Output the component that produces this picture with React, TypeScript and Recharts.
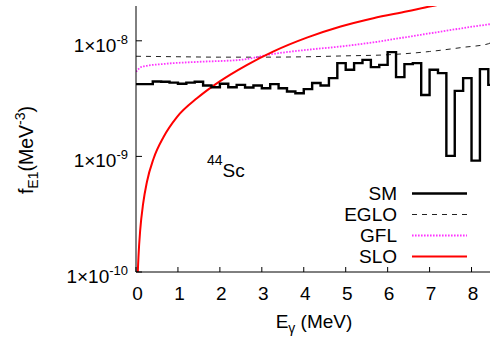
import React from 'react';
import { LineChart, Line, XAxis, YAxis } from 'recharts';

const FONT = '"Liberation Sans", Arial, Helvetica, sans-serif';

// Shell-model E1 strength: 0.2 MeV bins (left edges; last edge closes the final bin)
const smBinEdges = [
  0, 0.2, 0.4, 0.6, 0.8, 1.0, 1.2, 1.4, 1.6, 1.8, 2.0, 2.2, 2.4, 2.6, 2.8,
  3.0, 3.2, 3.4, 3.6, 3.8, 4.0, 4.2, 4.4, 4.6, 4.8, 5.0, 5.2, 5.4, 5.6, 5.8,
  6.0, 6.2, 6.4, 6.6, 6.8, 7.0, 7.2, 7.4, 7.6, 7.8, 8.0, 8.2, 8.4, 8.6,
];
const smStrength = [
  4.22e-9, 4.22e-9, 4.45e-9, 4.42e-9, 4.35e-9, 4.25e-9, 4.35e-9, 4.42e-9, 4.1e-9, 3.97e-9,
  4.25e-9, 3.97e-9, 4.16e-9, 3.94e-9, 4.1e-9, 3.89e-9, 4.22e-9, 3.89e-9, 3.64e-9, 3.52e-9,
  3.82e-9, 4.31e-9, 4.1e-9, 4.75e-9, 6.41e-9, 5.61e-9, 6.41e-9, 6.84e-9, 5.92e-9, 6.19e-9,
  7.98e-9, 4.85e-9, 6.28e-9, 6.41e-9, 3.4e-9, 5.61e-9, 5.25e-9, 1.01e-9, 3.69e-9, 4.75e-9,
  9.2e-10, 5.69e-9, 4.16e-9,
];

// Enhanced generalized Lorentzian
const egloEnergy = [0, 1, 2, 3, 4, 5, 6, 7, 7.8, 8.4, 8.5];
const egloStrength = [7.35e-9, 7.28e-9, 7.22e-9, 7.22e-9, 7.27e-9, 7.41e-9, 7.57e-9, 8.08e-9, 8.78e-9, 9.42e-9, 9.9e-9];

// Generalized Fermi liquid
const gflEnergy = [0, 0.15, 0.71, 1.5, 2.49, 3.28, 4.08, 4.88, 5.66, 6.47, 7.26, 8.05, 8.5];
const gflStrength = [5.4e-9, 5.98e-9, 6.33e-9, 6.58e-9, 6.84e-9, 7.71e-9, 8.36e-9, 8.93e-9, 9.7e-9, 1.08e-8, 1.2e-8, 1.33e-8, 1.4e-8];

// Standard Lorentzian
const sloEnergy = [0.03, 0.045, 0.06, 0.1, 0.17, 0.26, 0.42, 0.66, 0.98, 1.46, 1.85, 2.25, 2.65, 3.28, 4.09, 4.88, 5.66, 6.47, 7.03, 7.6];
const sloStrength = [6.9e-11, 1.04e-10, 1.38e-10, 2.3e-10, 3.9e-10, 6.0e-10, 9.6e-10, 1.48e-9, 2.2e-9, 3.2e-9, 4.1e-9, 5.1e-9, 6.2e-9, 8.1e-9, 1.07e-8, 1.33e-8, 1.57e-8, 1.8e-8, 1.99e-8, 2.17e-8];

const xTicks = [0, 1, 2, 3, 4, 5, 6, 7, 8];
const yMajorTicks = [1e-10, 1e-9, 1e-8];
const yMinorTicks = [
  2e-10, 3e-10, 4e-10, 5e-10, 6e-10, 7e-10, 8e-10, 9e-10,
  2e-9, 3e-9, 4e-9, 5e-9, 6e-9, 7e-9, 8e-9, 9e-9, 2e-8,
];

const X_DOMAIN: [number, number] = [0, 8.5];
const Y_DOMAIN: [number, number] = [1e-10, 2e-8];

const smData = smBinEdges.map((e, i) => ({ e, f: smStrength[Math.min(i, smStrength.length - 1)] }));
const egloData = egloEnergy.map((e, i) => ({ e, f: egloStrength[i] }));
const gflData = gflEnergy.map((e, i) => ({ e, f: gflStrength[i] }));
const sloData = sloEnergy.map((e, i) => ({ e, f: sloStrength[i] }));

const styles = {
  SM: { stroke: '#000000', strokeWidth: 2.4, dash: undefined as string | undefined },
  EGLO: { stroke: '#222222', strokeWidth: 1, dash: '5 5' },
  GFL: { stroke: '#ff33ff', strokeWidth: 1.8, dash: '1.6 1.4' },
  SLO: { stroke: '#ff0000', strokeWidth: 2, dash: undefined as string | undefined },
};
const legendOrder: (keyof typeof styles)[] = ['SM', 'EGLO', 'GFL', 'SLO'];

const YTick = (props: any) => {
  const { x, y, payload } = props;
  const exp = Math.round(Math.log10(payload.value));
  return (
    <text x={x} y={y + 11} textAnchor="end" fontSize={19} fontFamily={FONT} fill="#000">
      1×10<tspan dy={-8} fontSize={13}>{exp}</tspan>
    </text>
  );
};

const XTick = (props: any) => {
  const { x, y, payload } = props;
  return (
    <text x={x + 1.5} y={y} dy="0.71em" textAnchor="middle" fontSize={19} fontFamily={FONT} fill="#000">
      {payload.value}
    </text>
  );
};

const W = 500;
const H = 344;

export default function App() {
  return (
    <div style={{ position: 'fixed', left: 0, top: 0, width: 490, height: 344, overflow: 'hidden', background: '#fff' }}>
      <div style={{ position: 'relative', width: W, height: H }}>
        <LineChart width={W} height={H} margin={{ top: 6, right: 7.5, bottom: 0, left: 0 }}>
          <XAxis
            xAxisId="x"
            dataKey="e"
            type="number"
            domain={X_DOMAIN}
            allowDataOverflow
            ticks={xTicks}
            interval={0}
            height={72}
            tickSize={-5}
            tickMargin={19.5}
            axisLine={{ stroke: '#000', strokeWidth: 1 }}
            tickLine={{ stroke: '#000', strokeWidth: 1 }}
            tick={<XTick />}
          />
          <XAxis
            xAxisId="xTop"
            orientation="top"
            mirror
            height={0}
            type="number"
            domain={X_DOMAIN}
            allowDataOverflow
            ticks={xTicks}
            interval={0}
            tickSize={5}
            tick={false}
            axisLine={{ stroke: '#000', strokeWidth: 1 }}
            tickLine={{ stroke: '#000', strokeWidth: 1 }}
          />
          <YAxis
            yAxisId="y"
            type="number"
            scale="log"
            domain={Y_DOMAIN}
            allowDataOverflow
            ticks={yMajorTicks}
            interval={0}
            width={136}
            tickSize={-6}
            tickMargin={14}
            tick={<YTick />}
            axisLine={{ stroke: '#000', strokeWidth: 1 }}
            tickLine={{ stroke: '#000', strokeWidth: 1 }}
          />
          <YAxis
            yAxisId="yMinorL"
            orientation="left"
            mirror
            width={0}
            type="number"
            scale="log"
            domain={Y_DOMAIN}
            allowDataOverflow
            ticks={yMinorTicks}
            interval={0}
            tickSize={3}
            tick={false}
            axisLine={false}
            tickLine={{ stroke: '#000', strokeWidth: 1 }}
          />
          <YAxis
            yAxisId="yR"
            orientation="right"
            mirror
            width={0}
            type="number"
            scale="log"
            domain={Y_DOMAIN}
            allowDataOverflow
            ticks={yMajorTicks}
            interval={0}
            tickSize={6}
            tick={false}
            axisLine={{ stroke: '#000', strokeWidth: 1 }}
            tickLine={{ stroke: '#000', strokeWidth: 1 }}
          />
          <YAxis
            yAxisId="yMinorR"
            orientation="right"
            mirror
            width={0}
            type="number"
            scale="log"
            domain={Y_DOMAIN}
            allowDataOverflow
            ticks={yMinorTicks}
            interval={0}
            tickSize={3}
            tick={false}
            axisLine={false}
            tickLine={{ stroke: '#000', strokeWidth: 1 }}
          />
          <Line
            xAxisId="x"
            yAxisId="y"
            data={egloData}
            dataKey="f"
            type="monotone"
            stroke={styles.EGLO.stroke}
            strokeWidth={styles.EGLO.strokeWidth}
            strokeDasharray={styles.EGLO.dash}
            dot={false}
            activeDot={false}
            isAnimationActive={false}
          />
          <Line
            xAxisId="x"
            yAxisId="y"
            data={gflData}
            dataKey="f"
            type="monotone"
            stroke={styles.GFL.stroke}
            strokeWidth={styles.GFL.strokeWidth}
            strokeDasharray={styles.GFL.dash}
            dot={false}
            activeDot={false}
            isAnimationActive={false}
          />
          <Line
            xAxisId="x"
            yAxisId="y"
            data={sloData}
            dataKey="f"
            type="monotone"
            stroke={styles.SLO.stroke}
            strokeWidth={styles.SLO.strokeWidth}
            dot={false}
            activeDot={false}
            isAnimationActive={false}
          />
          <Line
            xAxisId="x"
            yAxisId="y"
            data={smData}
            dataKey="f"
            type="stepAfter"
            stroke={styles.SM.stroke}
            strokeWidth={styles.SM.strokeWidth}
            strokeLinejoin="miter"
            dot={false}
            activeDot={false}
            isAnimationActive={false}
          />
        </LineChart>
        <svg
          width={W}
          height={H}
          style={{ position: 'absolute', left: 0, top: 0, pointerEvents: 'none' }}
          fontFamily={FONT}
        >
          {/* axis titles */}
          <text transform="translate(33,150) rotate(-90)" textAnchor="middle" fontSize={19.5} fill="#000">
            f<tspan dy={5} fontSize={14}>E1</tspan>
            <tspan dy={-5} fontSize={19.5}>(MeV</tspan>
            <tspan dy={-8} fontSize={14}>-3</tspan>
            <tspan dy={8} fontSize={19.5}>)</tspan>
          </text>
          <text x={314} y={328} textAnchor="middle" fontSize={19} fill="#000">
            E<tspan dy={5} fontSize={14}>γ</tspan>
            <tspan dy={-5} fontSize={19}> (MeV)</tspan>
          </text>
          {/* nucleus label */}
          <text x={207} y={177} fontSize={19} fill="#000">
            <tspan dy={-12} fontSize={14}>44</tspan>
            <tspan dy={12} fontSize={19}>Sc</tspan>
          </text>
          {/* key */}
          {legendOrder.map((name, i) => {
            const s = styles[name];
            const base = 200 + i * 21;
            return (
              <g key={name}>
                <text x={397} y={base} textAnchor="end" fontSize={19} fill="#000">
                  {name}
                </text>
                <line
                  x1={412}
                  x2={467}
                  y1={base - 6.5}
                  y2={base - 6.5}
                  stroke={s.stroke}
                  strokeWidth={s.strokeWidth}
                  strokeDasharray={s.dash}
                />
              </g>
            );
          })}
        </svg>
      </div>
    </div>
  );
}
